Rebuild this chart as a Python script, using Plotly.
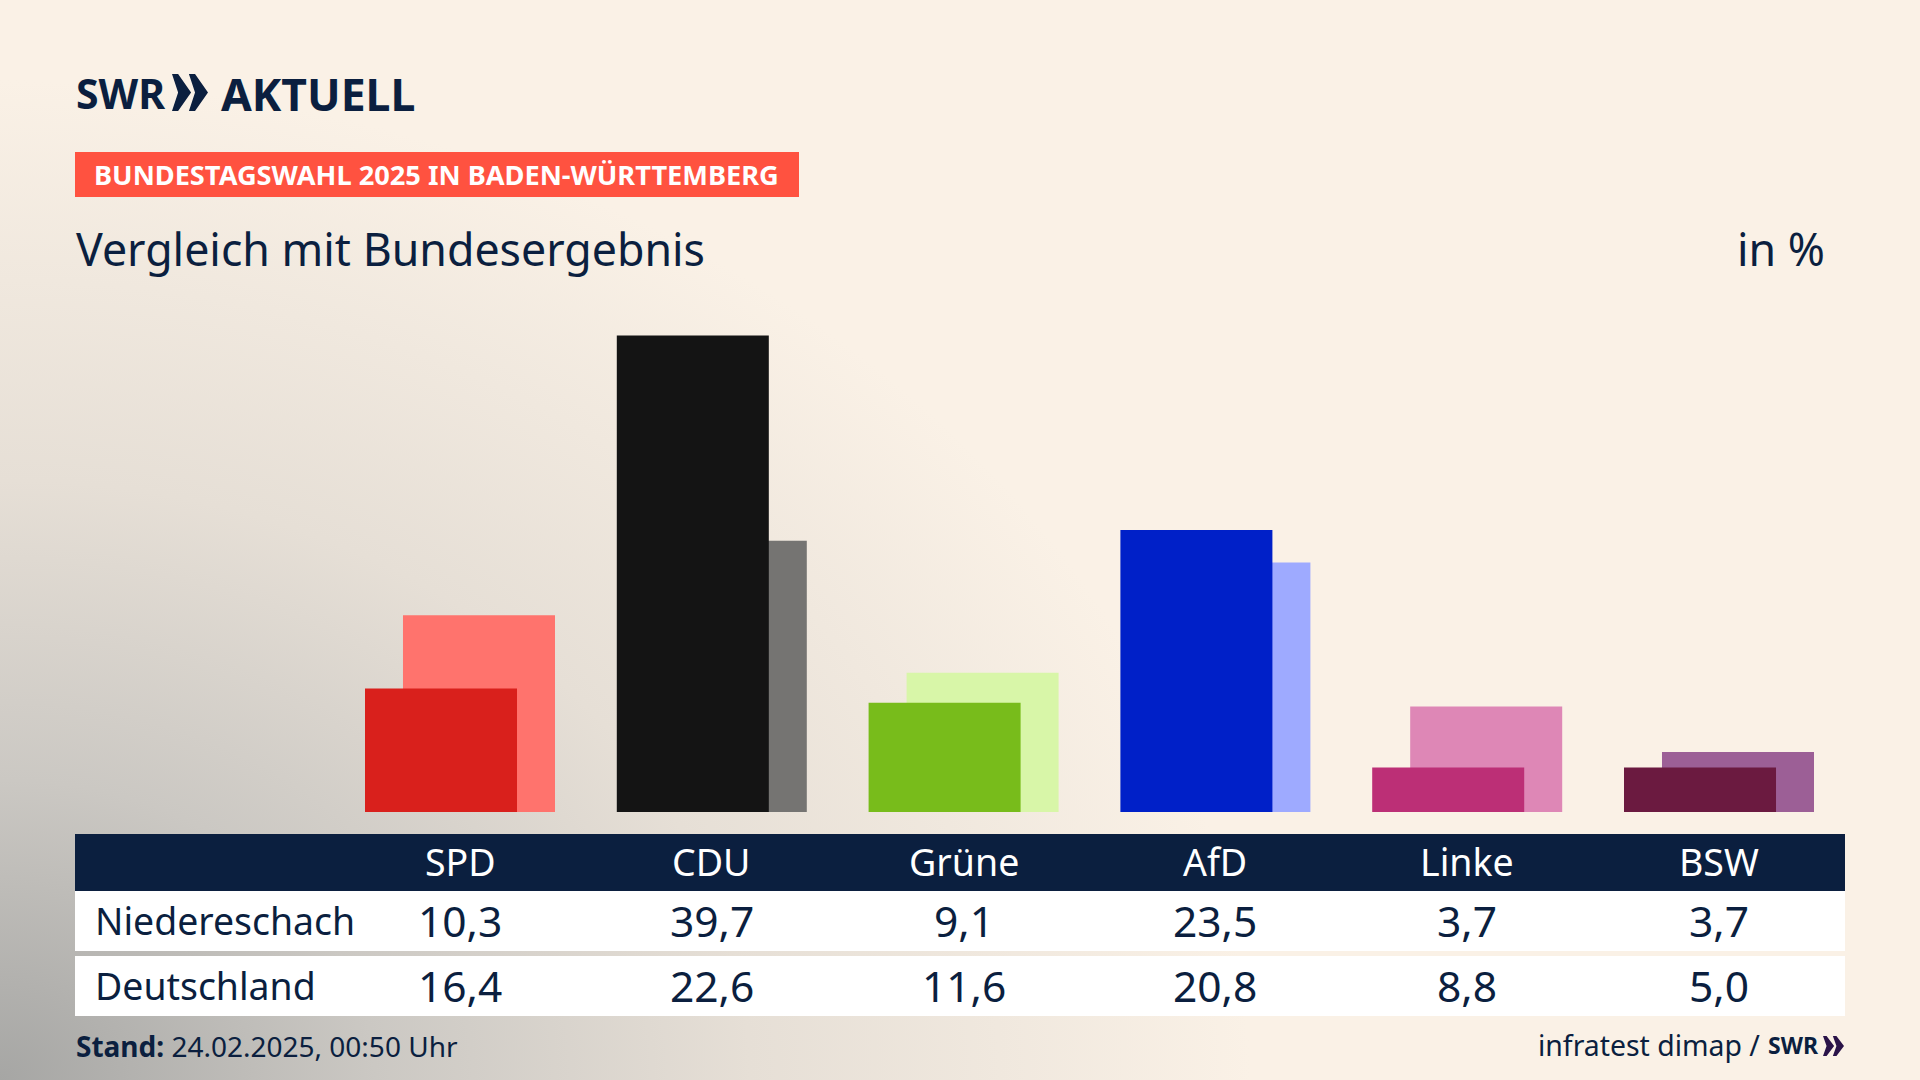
import base64
import plotly.graph_objects as go

parteien = ["SPD", "CDU", "Grüne", "AfD", "Linke", "BSW"]
niedereschach = [10.3, 39.7, 9.1, 23.5, 3.7, 3.7]
deutschland = [16.4, 22.6, 11.6, 20.8, 8.8, 5.0]
niedereschach_txt = ["10,3", "39,7", "9,1", "23,5", "3,7", "3,7"]
deutschland_txt = ["16,4", "22,6", "11,6", "20,8", "8,8", "5,0"]
farben_dunkel = ["#d9201c", "#141414", "#78bc1b", "#0020c8", "#bc2f76", "#6b1a40"]
farben_hell = ["#ff736d", "#757472", "#d8f6a8", "#9eaaff", "#de87b6", "#9c5f96"]

W, H = 1920, 1080
NAVY = "#0b1f3f"
SCHRIFT = "Noto Sans"


def px(x):
    return x / W


def py(y):
    return 1 - y / H


def text(x, y, s, size, color=NAVY, anchor="left", font=SCHRIFT, xref="paper"):
    return dict(x=x, y=py(y), xref=xref, yref="paper", text=s, showarrow=False, xanchor=anchor,
                yanchor="middle", font=dict(family=font, size=size, color=color), borderpad=0)


def rect(x0, y0, x1, y1, color):
    return dict(type="rect", xref="paper", yref="paper", x0=px(x0), x1=px(x1), y0=py(y0), y1=py(y1),
                fillcolor=color, line_width=0, layer="below")


def chevrons(x, y, w, h, color):
    # zwei Winkel vom SWR Logo
    p = []
    a = w * 0.53
    for i in range(2):
        x0 = x + i * w * 0.47
        p.append(f"M{px(x0)},{py(y)} L{px(x0 + w * 0.17)},{py(y)} L{px(x0 + a)},{py(y + h / 2)} "
                 f"L{px(x0 + w * 0.17)},{py(y + h)} L{px(x0)},{py(y + h)} L{px(x0 + w * 0.17)},{py(y + h / 2)} Z")
    return dict(type="path", xref="paper", yref="paper", path=" ".join(p), fillcolor=color, line_width=0)


svg = f"""<svg xmlns="http://www.w3.org/2000/svg" width="{W}" height="{H}" viewBox="0 0 {W} {H}">
<defs><radialGradient id="g" gradientUnits="userSpaceOnUse" cx="0" cy="0" r="1"
 gradientTransform="translate(0 1080) scale(1250 1000)">
<stop offset="0" stop-color="#a6a6a4"/>
<stop offset="0.3" stop-color="#cbc8c3"/>
<stop offset="0.6" stop-color="#e6dfd6"/>
<stop offset="1" stop-color="#faf1e6"/>
</radialGradient></defs>
<rect width="{W}" height="{H}" fill="#faf1e6"/>
<rect width="{W}" height="{H}" fill="url(#g)"/>
</svg>"""
hintergrund = "data:image/svg+xml;base64," + base64.b64encode(svg.encode()).decode()

fig = go.Figure()
# Bundesergebnis hinten, Gemeinde davor
fig.add_trace(go.Bar(x=parteien, y=deutschland, name="Deutschland", marker=dict(color=farben_hell, line_width=0),
                     width=0.6037, offset=-0.2264))
fig.add_trace(go.Bar(x=parteien, y=niedereschach, name="Niedereschach", marker=dict(color=farben_dunkel, line_width=0),
                     width=0.6037, offset=-0.3773))

annotations = [
    text(px(75), 93, "<b>SWR</b>", 41),
    text(px(220), 93, "<b>AKTUELL</b>", 44.5),
    text(px(93), 175, "<b>BUNDESTAGSWAHL 2025 IN BADEN-WÜRTTEMBERG</b>", 27.2, color="white"),
    text(px(75), 248, "Vergleich mit Bundesergebnis", 44.7),
    text(px(1826), 248, "in %", 44.7, anchor="right"),
    text(px(93.5), 920, "Niedereschach", 37.4),
    text(px(93.5), 985, "Deutschland", 37.4),
    text(px(75), 1046, "<b>Stand:</b> 24.02.2025, 00:50 Uhr", 28),
    text(px(1761), 1045, "infratest dimap /", 28.4, anchor="right"),
    text(px(1767), 1045, "<b>SWR</b>", 23),
]
for i, p in enumerate(parteien):
    annotations.append(text(p, 861, p, 37.5, color="white", anchor="center", xref="x"))
    annotations.append(text(p, 920, niedereschach_txt[i], 42.5, anchor="center", xref="x"))
    annotations.append(text(p, 985, deutschland_txt[i], 42.5, anchor="center", xref="x"))

shapes = [
    rect(75, 152, 799, 197, "#ff5240"),
    rect(75, 834, 1845, 891, NAVY),
    rect(75, 891, 1845, 951, "white"),
    rect(75, 956, 1845, 1016, "white"),
    chevrons(172, 74, 36, 37, NAVY),
    chevrons(1823, 1036, 21, 20, "#2a1348"),
]

fig.update_layout(
    width=W, height=H,
    margin=dict(l=0, r=0, t=0, b=0),
    paper_bgcolor="#faf1e6",
    plot_bgcolor="rgba(0,0,0,0)",
    barmode="overlay",
    showlegend=False,
    xaxis=dict(domain=[px(334.1), px(1844.9)], type="category", categoryorder="array", categoryarray=parteien,
               range=[-0.5, 5.5], visible=False),
    yaxis=dict(domain=[py(812), py(308)], range=[0, 42], visible=False),
    annotations=annotations,
    shapes=shapes,
    images=[dict(source=hintergrund, xref="paper", yref="paper", x=0, y=1, sizex=1, sizey=1,
                 sizing="stretch", xanchor="left", yanchor="top", layer="below")],
)

fig.write_html("out.html", config={"displayModeBar": False},
               post_script="document.body.style.margin='0';document.body.style.overflow='hidden';")
